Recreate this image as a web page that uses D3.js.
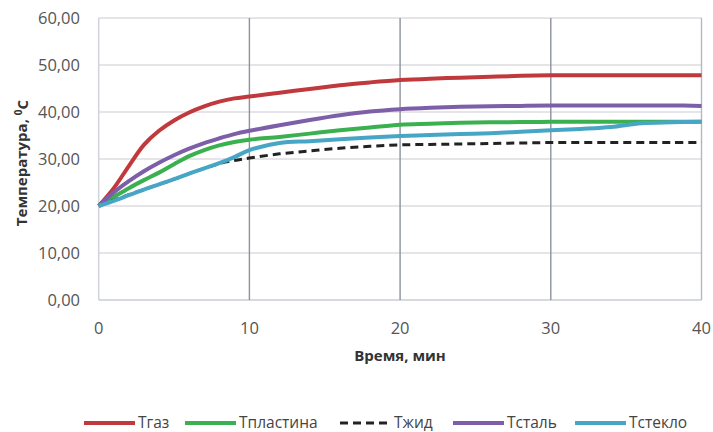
<!DOCTYPE html>
<html><head><meta charset="utf-8">
<script src="https://cdn.jsdelivr.net/npm/d3@7"></script>
<style>body{margin:0;background:#fff;} svg{display:block;font-family:"Open Sans",sans-serif;}</style>
</head><body><svg id="c" width="713" height="432"></svg>
<script>
const times = [0,1,2,3,4,5,6,7,8,9,10,12,14,16,18,20,22,24,26,28,30,32,34,36,38,40];
const tGaz = [20,23.8,28.5,33.0,36.0,38.2,39.9,41.2,42.2,42.9,43.3,44.1,44.9,45.7,46.3,46.8,47.1,47.3,47.5,47.7,47.8,47.8,47.8,47.8,47.8,47.8];
const tPlastina = [20,21.9,23.8,25.5,27.1,28.9,30.6,31.9,32.9,33.6,34.1,34.7,35.4,36.1,36.7,37.3,37.5,37.7,37.8,37.85,37.9,37.9,37.9,37.9,37.9,37.9];
const tZhid = [20,21.2,22.4,23.5,24.6,25.7,26.9,28,29,29.7,30.2,31.1,31.7,32.3,32.7,33,33.1,33.2,33.3,33.4,33.5,33.5,33.5,33.5,33.5,33.5];
const tStal = [20,22.9,25.3,27.4,29.2,30.8,32.2,33.4,34.4,35.3,36,37.2,38.3,39.3,40.1,40.6,40.9,41.1,41.2,41.3,41.4,41.4,41.4,41.4,41.4,41.3];
const tSteklo = [20,21.1,22.3,23.5,24.6,25.7,26.9,28,29.1,30.4,31.9,33.4,33.8,34.2,34.6,34.9,35.1,35.3,35.5,35.8,36.1,36.4,36.8,37.6,37.8,37.9];
const seriesNames = ["Тгаз","Тпластина","Тжид","Тсталь","Тстекло"];
const seriesData = [tGaz,tPlastina,tZhid,tStal,tSteklo];
const seriesColors = ["#c0393c","#3bb050","#222222","#7d5ea9","#47a6c5"];
const xTicks = [0,10,20,30,40];
const yTicks = [0,10,20,30,40,50,60];

const svg = d3.select("#c");
const x = d3.scaleLinear().domain([0,40]).range([98.7,701.5]);
const y = d3.scaleLinear().domain([0,60]).range([300,18]);

// horizontal gridlines
svg.append("g").selectAll("line").data(yTicks).join("line")
  .attr("x1",x(0)).attr("x2",x(40)).attr("y1",d=>y(d)).attr("y2",d=>y(d))
  .attr("stroke",d=>d===0?"#c9ccd3":"#dcdde2").attr("stroke-width",1.3);
// vertical gridlines
svg.append("g").selectAll("line").data(xTicks).join("line")
  .attr("x1",d=>x(d)).attr("x2",d=>x(d)).attr("y1",y(60)).attr("y2",y(0))
  .attr("stroke",d=>d===0?"#d0d3d9":(d===40?"#b4b8c0":"#8d929b")).attr("stroke-width",d=>d===0?1.5:1.4);

// y tick labels
svg.append("g").selectAll("text").data(yTicks).join("text")
  .attr("x",80).attr("y",d=>y(d)).attr("dy","0.35em").attr("text-anchor","end")
  .attr("font-size",16.5).attr("fill","#555").text(d=>d3.format(".2f")(d).replace(".",","));
// x tick labels
svg.append("g").selectAll("text").data(xTicks).join("text")
  .attr("x",d=>x(d)).attr("y",328).attr("dy","0.35em").attr("text-anchor","middle")
  .attr("font-size",16.5).attr("fill","#555").text(d=>d);

// axis titles
svg.append("text").attr("x",400).attr("y",356).attr("dy","0.35em").attr("text-anchor","middle")
  .attr("font-size",15).attr("font-weight","bold").attr("fill","#333").text("Время, мин");
const yt = svg.append("text").attr("transform","translate(22,163) rotate(-90)").attr("text-anchor","middle")
  .attr("dy","0.35em").attr("font-size",15).attr("font-weight","bold").attr("fill","#333");
yt.append("tspan").text("Температура, ");
yt.append("tspan").attr("font-size",10).attr("dy","-0.5em").text("0");
yt.append("tspan").attr("dy","0.4em").text("С");

// lines
const line = d3.line().x((d,i)=>x(times[i])).y(d=>y(d)).curve(d3.curveCatmullRom.alpha(0.5));
seriesData.forEach((s,k)=>{
  svg.append("path").datum(s).attr("d",line).attr("fill","none")
    .attr("stroke",seriesColors[k]).attr("stroke-width",k===2?3:4)
    .attr("stroke-dasharray",k===2?"8,5":null).attr("stroke-linejoin","round");
});

// legend
const legX = [84,185,340,453,575];
const lg = svg.append("g");
seriesNames.forEach((n,k)=>{
  lg.append("line").attr("x1",legX[k]).attr("x2",legX[k]+(k===2?48:51)).attr("y1",423).attr("y2",423)
    .attr("stroke",seriesColors[k]).attr("stroke-width",k===2?3:4).attr("stroke-dasharray",k===2?"8,5":null);
  lg.append("text").attr("x",legX[k]+54).attr("y",423).attr("dy","0.35em").attr("font-size",15.5)
    .attr("fill","#444").text(n);
});
</script></body></html>
